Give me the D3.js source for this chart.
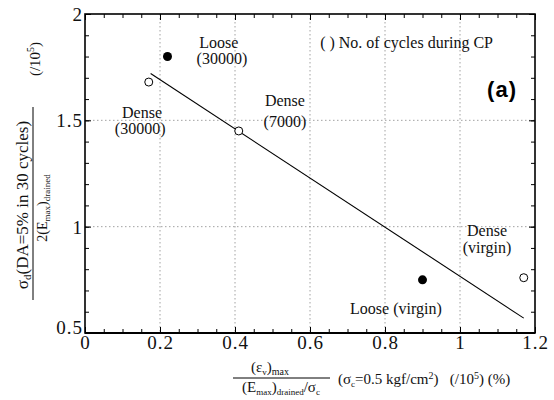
<!DOCTYPE html>
<html>
<head>
<meta charset="utf-8">
<script src="https://cdn.jsdelivr.net/npm/d3@7"></script>
<style>
  html, body { margin: 0; padding: 0; background: #fff; }
  svg { display: block; }
</style>
</head>
<body>
<svg id="chart" width="554" height="400"></svg>
<script>
// Axis ticks
const xMajorTicks = [0, 0.2, 0.4, 0.6, 0.8, 1.0, 1.2];
const xTickLabels = ["0", "0.2", "0.4", "0.6", "0.8", "1", "1.2"];
const yMajorTicks = [0.5, 1.0, 1.5, 2.0];
const yTickLabels = ["0.5", "1", "1.5", "2"];
const xGrid = [0.2, 0.4, 0.6, 0.8, 1.0];
const yGrid = [1.0, 1.5];

// Dense sand specimens (open circles)
const denseX = [0.17, 0.41, 1.17];
const denseY = [1.68, 1.45, 0.76];
// Loose sand specimens (filled circles)
const looseX = [0.22, 0.90];
const looseY = [1.80, 0.75];
// Fitted trend line
const fitX = [0.175, 1.17];
const fitY = [1.72, 0.57];

// Text annotations, anchored in data units
const notes = [
  { t: "Loose",   x: 0.357, y: 1.840, a: "middle" },
  { t: "(30000)", x: 0.365, y: 1.764, a: "middle" },
  { t: "Dense",   x: 0.152, y: 1.509, a: "middle" },
  { t: "(30000)", x: 0.147, y: 1.434, a: "middle" },
  { t: "Dense",   x: 0.533, y: 1.566, a: "middle" },
  { t: "(7000)",  x: 0.533, y: 1.467, a: "middle" },
  { t: "( ) No. of cycles during CP", x: 0.627, y: 1.840, a: "start" },
  { t: "Dense",   x: 1.072, y: 0.958, a: "middle" },
  { t: "(virgin)", x: 1.072, y: 0.877, a: "middle" },
  { t: "Loose (virgin)", x: 0.829, y: 0.590, a: "middle" }
];

const SERIF = "'Liberation Serif', 'Times New Roman', Times, 'DejaVu Serif', serif";
const SANS = "'Liberation Sans', Arial, Helvetica, sans-serif";
const serif = sel => sel.style("font-family", SERIF).style("fill", "#111");

const svg = d3.select("#chart");
const L = 85, R = 535, T = 14, B = 333;

const x = d3.scaleLinear().domain([0, 1.2]).range([L, R]);
const y = d3.scaleLinear().domain([0.5, 2]).range([B, T]);

const xMinor = d3.range(0, 1.2001, 0.05).map(v => +v.toFixed(2));
const yMinor = d3.range(0.5, 2.0001, 0.1).map(v => +v.toFixed(2));

// Dotted grid
const grid = svg.append("g").attr("stroke", "#8a8a8a").attr("stroke-width", 0.8)
  .attr("stroke-dasharray", "1.5,2.5").attr("fill", "none");
grid.selectAll("line.gx").data(xGrid).join("line")
  .attr("x1", d => x(d)).attr("x2", d => x(d)).attr("y1", T).attr("y2", B);
grid.selectAll("line.gy").data(yGrid).join("line")
  .attr("y1", d => y(d)).attr("y2", d => y(d)).attr("x1", L).attr("x2", R);

// Inward ticks on all four sides
function ticks(axisGen, tx, ty, vals, size) {
  const g = svg.append("g").attr("transform", `translate(${tx},${ty})`)
    .call(axisGen.tickValues(vals).tickSize(size).tickFormat(""));
  g.select(".domain").remove();
  g.selectAll(".tick line").attr("stroke", "#000").attr("stroke-width", 1);
  return g;
}
ticks(d3.axisBottom(x), 0, B, xMinor, -4);
ticks(d3.axisTop(x), 0, T, xMinor, -4);
ticks(d3.axisLeft(y), L, 0, yMinor, -4);
ticks(d3.axisRight(y), R, 0, yMinor, -4);
ticks(d3.axisBottom(x), 0, B, xMajorTicks, -6);
ticks(d3.axisTop(x), 0, T, xMajorTicks, -6);
ticks(d3.axisLeft(y), L, 0, yMajorTicks, -6);
ticks(d3.axisRight(y), R, 0, yMajorTicks, -6);

// Tick labels
const xAx = svg.append("g").attr("transform", `translate(0,${B})`)
  .call(d3.axisBottom(x).tickValues(xMajorTicks).tickSize(0)
    .tickFormat((d, i) => xTickLabels[i]));
xAx.select(".domain").remove();
xAx.selectAll("text").call(serif).attr("font-size", 19)
  .attr("letter-spacing", 1).attr("y", 16).attr("dy", null);

const yAx = svg.append("g").attr("transform", `translate(${L},0)`)
  .call(d3.axisLeft(y).tickValues(yMajorTicks).tickSize(0)
    .tickFormat((d, i) => yTickLabels[i]));
yAx.select(".domain").remove();
yAx.selectAll("text").call(serif).attr("font-size", 19)
  .attr("letter-spacing", 1).attr("x", -2)
  .attr("dy", d => d === 0.5 ? "0.05em" : "0.34em");

// Frame
svg.append("rect").attr("x", L).attr("y", T).attr("width", R - L).attr("height", B - T)
  .attr("fill", "none").attr("stroke", "#000").attr("stroke-width", 1.6);
svg.append("line").attr("x1", L).attr("x2", R).attr("y1", B).attr("y2", B)
  .attr("stroke", "#000").attr("stroke-width", 2.2);

// Trend line
svg.append("path")
  .datum(fitX.map((v, i) => [v, fitY[i]]))
  .attr("d", d3.line().x(d => x(d[0])).y(d => y(d[1])))
  .attr("fill", "none").attr("stroke", "#000").attr("stroke-width", 1.1);

// Points
svg.append("g").selectAll("circle").data(denseX.map((v, i) => [v, denseY[i]])).join("circle")
  .attr("cx", d => x(d[0])).attr("cy", d => y(d[1])).attr("r", 4)
  .attr("fill", "#fff").attr("stroke", "#000").attr("stroke-width", 1);
svg.append("g").selectAll("circle").data(looseX.map((v, i) => [v, looseY[i]])).join("circle")
  .attr("cx", d => x(d[0])).attr("cy", d => y(d[1])).attr("r", 4.5)
  .attr("fill", "#000");

// Annotations
svg.append("g").selectAll("text").data(notes).join("text")
  .call(serif).attr("font-size", 16)
  .attr("x", d => x(d.x)).attr("y", d => y(d.y))
  .attr("text-anchor", d => d.a).style("white-space", "pre")
  .text(d => d.t);

svg.append("text").attr("x", x(1.152)).attr("y", y(1.608))
  .attr("text-anchor", "end")
  .style("font-family", SANS)
  .attr("font-weight", "bold").attr("font-size", 22).attr("letter-spacing", 1)
  .text("(a)");

// Y axis title: fraction, rotated
const yt = svg.append("g").attr("transform", "translate(33,205) rotate(-90)");
const yNum = yt.append("text").call(serif).attr("text-anchor", "middle").attr("y", -5).attr("font-size", 17);
yNum.append("tspan").text("σ");
yNum.append("tspan").attr("font-size", 11).attr("dy", 3).text("d");
yNum.append("tspan").attr("dy", -3).text("(DA=5% in 30 cycles)");
yt.append("line").attr("x1", -95).attr("x2", 98).attr("y1", 0).attr("y2", 0)
  .attr("stroke", "#000").attr("stroke-width", 1);
const yDen = yt.append("text").call(serif).attr("text-anchor", "middle").attr("x", -3).attr("y", 14).attr("font-size", 14);
yDen.append("tspan").text("2(E");
yDen.append("tspan").attr("font-size", 9).attr("dy", 3).text("max");
yDen.append("tspan").attr("dy", -3).text(")");
yDen.append("tspan").attr("font-size", 9).attr("dy", 3).text("drained");
const yUnit = yt.append("text").call(serif).attr("text-anchor", "middle").attr("x", 146).attr("y", 7).attr("font-size", 15);
yUnit.append("tspan").text("(/10");
yUnit.append("tspan").attr("font-size", 10).attr("dy", -6).text("5");
yUnit.append("tspan").attr("dy", 6).text(")");

// X axis title: fraction plus conditions
const xt = svg.append("g");
const xNum = xt.append("text").call(serif).attr("text-anchor", "middle").attr("x", 270).attr("y", 372).attr("font-size", 15);
xNum.append("tspan").text("(ε");
xNum.append("tspan").attr("font-size", 9).attr("dy", 3).text("v");
xNum.append("tspan").attr("dy", -3).text(")");
xNum.append("tspan").attr("font-size", 10).attr("dy", 3).text("max");
xt.append("line").attr("x1", 233).attr("x2", 330).attr("y1", 378).attr("y2", 378)
  .attr("stroke", "#000").attr("stroke-width", 1);
const xDen = xt.append("text").call(serif).attr("text-anchor", "middle").attr("x", 281).attr("y", 392).attr("font-size", 15);
xDen.append("tspan").text("(E");
xDen.append("tspan").attr("font-size", 9).attr("dy", 3).text("max");
xDen.append("tspan").attr("dy", -3).text(")");
xDen.append("tspan").attr("font-size", 9).attr("dy", 3).text("drained");
xDen.append("tspan").attr("dy", -3).text("/σ");
xDen.append("tspan").attr("font-size", 9).attr("dy", 3).text("c");
const xCond = xt.append("text").call(serif).attr("x", 338).attr("y", 384).attr("font-size", 15)
  .style("white-space", "pre");
xCond.append("tspan").text("(σ");
xCond.append("tspan").attr("font-size", 9).attr("dy", 3).text("c");
xCond.append("tspan").attr("dy", -3).text("=0.5 kgf/cm");
xCond.append("tspan").attr("font-size", 10).attr("dy", -5).text("2");
xCond.append("tspan").attr("dy", 5).text(")   (/10");
xCond.append("tspan").attr("font-size", 10).attr("dy", -5).text("5");
xCond.append("tspan").attr("dy", 5).text(") (%)");
</script>
</body>
</html>
